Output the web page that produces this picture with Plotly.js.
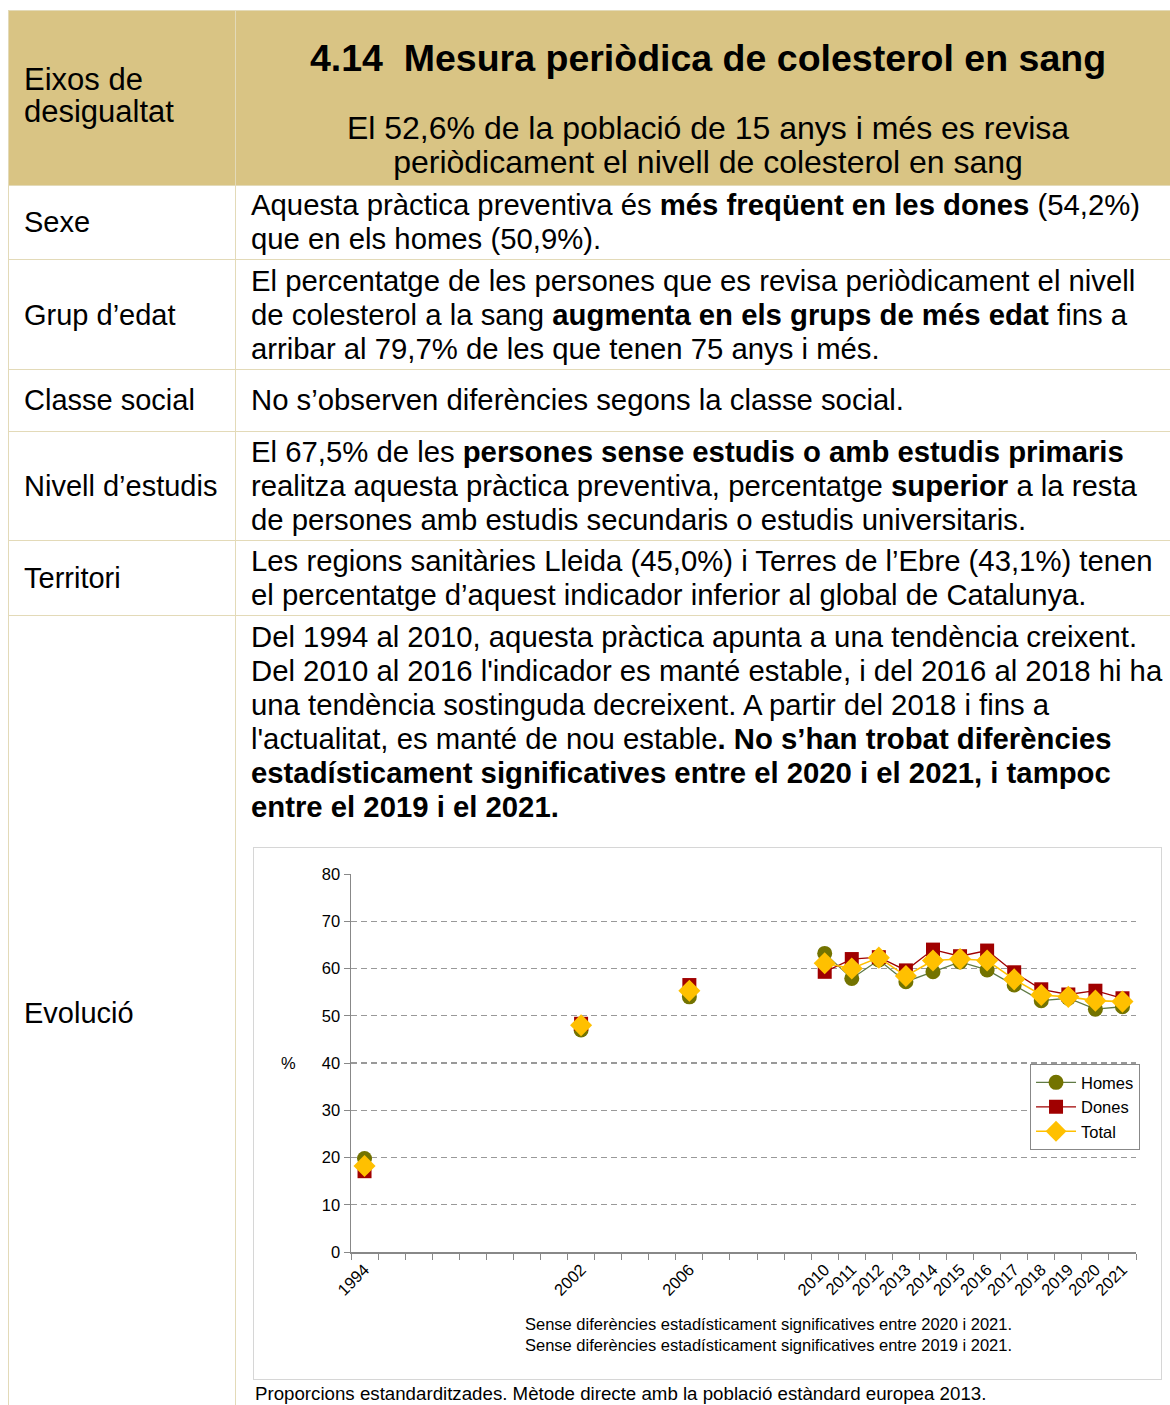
<!DOCTYPE html>
<html lang="ca">
<head>
<meta charset="UTF-8">
<title>Mesura periòdica de colesterol en sang</title>
<script src="https://cdn.plot.ly/plotly-3.0.1.min.js"></script>
<style>
    body {
        margin: 0;
        background: white;
        font-family: 'Liberation Sans', Arial, sans-serif;
        color: #000;
    }
    .page { position: relative; width: 1170px; height: 1405px; overflow: hidden; }
    .hdr { position: absolute; left: 8px; top: 10px; width: 1162px; height: 175px; background: #D9C484; }
    .vl { position: absolute; top: 10px; width: 1px; height: 1400px; background: #E3DAB8; }
    .hl { position: absolute; left: 8px; width: 1162px; height: 1px; background: #E3DAB8; }
    .lab { position: absolute; left: 24px; font-size: 29px; line-height: 34px; white-space: nowrap; }
    .txt { position: absolute; left: 251px; font-size: 29.3px; line-height: 34px; white-space: nowrap; }
    .title { position: absolute; left: 246px; width: 924px; top: 37px; text-align: center;
             font-size: 37.5px; line-height: 42px; font-weight: bold; white-space: nowrap; }
    .sub { position: absolute; left: 246px; width: 924px; top: 111px; text-align: center;
           font-size: 32px; line-height: 34px; white-space: nowrap; }
    .box { position: absolute; left: 253px; top: 847px; width: 909px; height: 533px;
           border: 1px solid #D6D6D6; box-sizing: border-box; }
    #plot { width: 907px; height: 531px; }
    .foot { position: absolute; left: 255px; top: 1383px; font-size: 18.7px; line-height: 22px; white-space: nowrap; }
</style>
</head>
<body>
<div class="page">
    <div class="hdr"></div>
    <div class="hl" style="top:10px"></div>
    <div class="hl" style="top:185px"></div>
    <div class="hl" style="top:259px"></div>
    <div class="hl" style="top:369px"></div>
    <div class="hl" style="top:431px"></div>
    <div class="hl" style="top:540px"></div>
    <div class="hl" style="top:615px"></div>
    <div class="vl" style="left:8px"></div>
    <div class="vl" style="left:235px"></div>

    <div class="lab" style="top:64px; line-height:32px; font-size:31px">Eixos de<br>desigualtat</div>
    <div class="title">4.14&nbsp;&nbsp;Mesura periòdica de colesterol en sang</div>
    <div class="sub">El 52,6% de la població de 15 anys i més es revisa<br>periòdicament el nivell de colesterol en sang</div>

    <div class="lab" style="top:205px">Sexe</div>
    <div class="txt" style="top:188px">Aquesta pràctica preventiva és <b>més freqüent en les dones</b> (54,2%)<br>que en els homes (50,9%).</div>

    <div class="lab" style="top:298px">Grup d’edat</div>
    <div class="txt" style="top:264px">El percentatge de les persones que es revisa periòdicament el nivell<br>de colesterol a la sang <b>augmenta en els grups de més edat</b> fins a<br>arribar al 79,7% de les que tenen 75 anys i més.</div>

    <div class="lab" style="top:383px">Classe social</div>
    <div class="txt" style="top:383px">No s’observen diferències segons la classe social.</div>

    <div class="lab" style="top:469px">Nivell d’estudis</div>
    <div class="txt" style="top:435px">El 67,5% de les <b>persones sense estudis o amb estudis primaris</b><br>realitza aquesta pràctica preventiva, percentatge <b>superior</b> a la resta<br>de persones amb estudis secundaris o estudis universitaris.</div>

    <div class="lab" style="top:561px">Territori</div>
    <div class="txt" style="top:544px">Les regions sanitàries Lleida (45,0%) i Terres de l’Ebre (43,1%) tenen<br>el percentatge d’aquest indicador inferior al global de Catalunya.</div>

    <div class="lab" style="top:996px">Evolució</div>
    <div class="txt" style="top:620px">Del 1994 al 2010, aquesta pràctica apunta a una tendència creixent.<br>Del 2010 al 2016 l'indicador es manté estable, i del 2016 al 2018 hi ha<br>una tendència sostinguda decreixent. A partir del 2018 i fins a<br>l'actualitat, es manté de nou estable<b>. No s’han trobat diferències<br>estadísticament significatives entre el 2020 i el 2021, i tampoc<br>entre el 2019 i el 2021.</b></div>

    <div class="box"><div id="plot"></div></div>
    <div class="foot">Proporcions estandarditzades. Mètode directe amb la població estàndard europea 2013.</div>
</div>

<script>
    // slots on the x axis (one per year; the original axis has one extra empty slot before 2010)
    const axisSlots = ['1994', '1995', '1996', '1997', '1998', '1999', '2000', '2001', '2002', '2003',
        '2004', '2005', '2006', '2007', '2008', '2009', '2009-10', '2010', '2011', '2012', '2013',
        '2014', '2015', '2016', '2017', '2018', '2019', '2020', '2021'];

    // survey years with data
    const surveyYears = ['1994', '2002', '2006', '2010', '2011', '2012', '2013', '2014',
        '2015', '2016', '2017', '2018', '2019', '2020', '2021'];

    const homes = [19.8, 47.0, 54.0, 63.2, 57.9, 61.8, 57.2, 59.3, 61.4, 59.7, 56.5, 53.2, 53.7, 51.4, 51.9];
    const dones = [17.1, 48.3, 56.5, 59.3, 62.0, 62.4, 59.6, 64.0, 62.6, 63.8, 59.2, 55.6, 54.5, 55.3, 53.7];
    const total = [18.2, 48.0, 55.3, 61.1, 60.0, 62.3, 58.4, 61.7, 62.0, 61.7, 57.7, 54.4, 54.0, 53.2, 53.0];

    const notes = 'Sense diferències estadísticament significatives entre 2020 i 2021.<br>' +
                  'Sense diferències estadísticament significatives entre 2019 i 2021.';

    // spread a series over every slot, leaving gaps where there was no survey
    function spread(values) {
        return axisSlots.map(y => {
            const i = surveyYears.indexOf(y);
            return i >= 0 ? values[i] : null;
        });
    }

    const traces = [
        {
            x: axisSlots, y: spread(homes), name: 'Homes',
            type: 'scatter', mode: 'lines+markers', connectgaps: false,
            line: { color: '#5F7A45', width: 1.3 },
            marker: { symbol: 'circle', size: 15, color: '#737300' }
        },
        {
            x: axisSlots, y: spread(dones), name: 'Dones',
            type: 'scatter', mode: 'lines+markers', connectgaps: false,
            line: { color: '#A00000', width: 1.3 },
            marker: { symbol: 'square', size: 14, color: '#A00000' }
        },
        {
            x: axisSlots, y: spread(total), name: 'Total',
            type: 'scatter', mode: 'lines+markers', connectgaps: false,
            line: { color: '#FFC000', width: 1.6 },
            marker: { symbol: 'diamond', size: 17, color: '#FFC000' }
        }
    ];

    const layout = {
        width: 907,
        height: 531,
        margin: { l: 97, r: 25, t: 26, b: 127 },
        paper_bgcolor: 'white',
        plot_bgcolor: 'white',
        font: { family: 'Liberation Sans, Arial, sans-serif', size: 16, color: '#000' },
        showlegend: true,
        legend: {
            x: 0.865, y: 0.497, xanchor: 'left', yanchor: 'top',
            bgcolor: 'white', bordercolor: '#888', borderwidth: 1,
            font: { size: 16.5 }, tracegroupgap: 0, itemwidth: 40
        },
        xaxis: {
            type: 'category',
            range: [-0.5, axisSlots.length - 0.5],
            tickmode: 'array',
            tickvals: axisSlots,
            ticktext: axisSlots.map(y => surveyYears.includes(y) ? y : ''),
            tickson: 'boundaries',
            tickangle: -45,
            ticks: 'outside', ticklen: 6, tickcolor: '#888',
            showgrid: false, zeroline: false,
            showline: true, linecolor: '#888', linewidth: 1.5,
            tickfont: { size: 16.5 }
        },
        yaxis: {
            range: [0, 80], dtick: 10,
            ticks: 'outside', ticklen: 6, tickcolor: '#888',
            showgrid: true, gridcolor: '#999', griddash: '6px,4px', gridwidth: 1.3,
            zeroline: false,
            showline: true, linecolor: '#888', linewidth: 1.5,
            tickfont: { size: 16.5 }
        },
        annotations: [
            {
                text: '%', xref: 'paper', yref: 'paper', x: -0.092, y: 0.5,
                showarrow: false, font: { size: 16.5 }
            },
            {
                text: notes, xref: 'paper', yref: 'paper', x: 0.219, y: -0.217,
                xanchor: 'left', yanchor: 'middle', align: 'left',
                showarrow: false, font: { size: 16.5 }
            }
        ]
    };

    Plotly.newPlot('plot', traces, layout, { staticPlot: true, displayModeBar: false });
</script>
</body>
</html>
